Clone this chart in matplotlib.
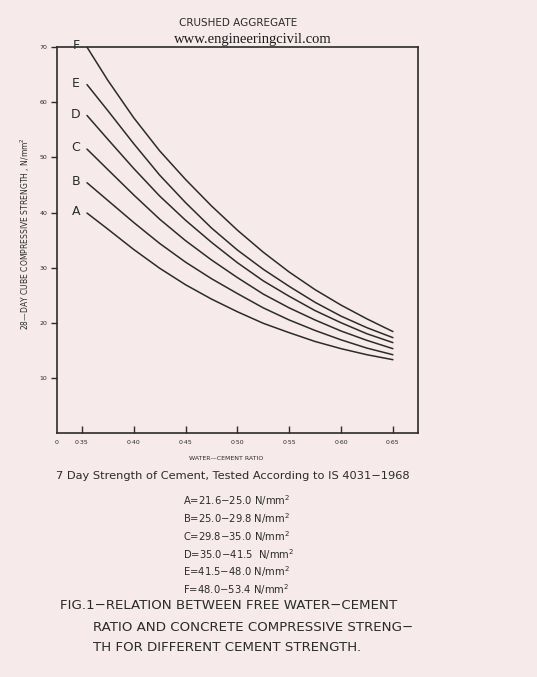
import matplotlib
matplotlib.use("Agg")
import matplotlib.pyplot as plt

# water-cement ratio where the curves were read
wc_ratio = [0.355, 0.375, 0.40, 0.425, 0.45, 0.475, 0.50, 0.525, 0.55, 0.575, 0.60, 0.625, 0.65]

# 28-day cube strength (N/mm2)
curve_a = [39.9, 37.0, 33.3, 29.9, 26.9, 24.3, 22.0, 19.9, 18.2, 16.6, 15.3, 14.2, 13.3]
curve_b = [45.4, 42.2, 38.2, 34.4, 31.0, 28.0, 25.3, 22.7, 20.5, 18.6, 16.9, 15.4, 14.2]
curve_c = [51.5, 47.8, 43.2, 38.8, 34.9, 31.4, 28.2, 25.2, 22.7, 20.5, 18.5, 16.8, 15.3]
curve_d = [57.6, 53.3, 48.0, 43.0, 38.6, 34.6, 30.9, 27.6, 24.8, 22.2, 20.0, 18.0, 16.4]
curve_e = [63.2, 58.5, 52.5, 46.8, 41.8, 37.2, 33.2, 29.7, 26.6, 23.7, 21.2, 19.1, 17.3]
curve_f = [70.0, 64.0, 57.2, 51.2, 46.0, 41.2, 36.8, 32.8, 29.2, 26.0, 23.2, 20.7, 18.4]

curve_names = ["A", "B", "C", "D", "E", "F"]
curves = [curve_a, curve_b, curve_c, curve_d, curve_e, curve_f]

x_ticks = [0.35, 0.40, 0.45, 0.50, 0.55, 0.60, 0.65]
x_ticklabels = ["0·35", "0·40", "0·45", "0·50", "0·55", "0·60", "0·65"]
y_ticks = [10, 20, 30, 40, 50, 60, 70]

legend_lines = [
    "A=21.6\u221225.0 N/mm$^{2}$",
    "B=25.0\u221229.8 N/mm$^{2}$",
    "C=29.8\u221235.0 N/mm$^{2}$",
    "D=35.0\u221241.5  N/mm$^{2}$",
    "E=41.5\u221248.0 N/mm$^{2}$",
    "F=48.0\u221253.4 N/mm$^{2}$",
]

paper = "#f6eaea"
ink = "#2b2b2b"

plt.rcParams["font.family"] = ["DejaVu Sans"]
plt.rcParams["mathtext.default"] = "regular"

fig = plt.figure(figsize=(5.37, 6.77), dpi=100, facecolor=paper)
ax = fig.add_axes([0.106, 0.3604, 0.672, 0.570], facecolor=paper)

for name, vals in zip(curve_names, curves):
    ax.plot(wc_ratio, vals, color=ink, linewidth=1.1, solid_capstyle="round")
    ax.annotate(name, xy=(wc_ratio[0], vals[0]), xytext=(-5, 1),
                textcoords="offset points", ha="right", va="center",
                fontsize=9, color=ink, annotation_clip=False)

ax.set_xlim(0.326, 0.674)
ax.set_ylim(0, 70)
for s in ax.spines.values():
    s.set_color(ink)
    s.set_linewidth(1.2)

ax.set_xticks([0.326] + x_ticks)
ax.set_xticklabels(["0"] + x_ticklabels, fontsize=4.5, color=ink)
ax.tick_params(axis="x", direction="in", length=5, width=1, color=ink, pad=5)
ax.xaxis.get_major_ticks()[0].tick1line.set_visible(False)

ax.set_yticks(y_ticks)
ax.set_yticklabels([str(v) for v in y_ticks], fontsize=4.5, color=ink)
ax.tick_params(axis="y", direction="out", length=4, width=1, color=ink, pad=3)

ax.set_xlabel("WATER\u2014CEMENT RATIO", fontsize=4.5, color=ink)
ax.xaxis.set_label_coords(0.468, -0.06)
ax.set_ylabel("28\u2014DAY CUBE COMPRESSIVE STRENGTH , N/mm$^{2}$",
              fontsize=5.5, color=ink)
ax.yaxis.set_label_coords(-0.068, 0.518)

fig.text(0.443, 0.966, "CRUSHED AGGREGATE", ha="center", va="center",
         fontsize=7.5, color=ink)
fig.text(0.471, 0.941, "www.engineeringcivil.com", ha="center", va="center",
         fontsize=10.5, color="#1a1a1a", family="Liberation Serif")

fig.text(0.434, 0.297, "7 Day Strength of Cement, Tested According to IS 4031\u22121968",
         ha="center", va="center", fontsize=8.2, color=ink)

for i, line in enumerate(legend_lines):
    fig.text(0.341, 0.261 - i * 0.0265, line, ha="left", va="center",
             fontsize=7.2, color=ink)

fig.text(0.112, 0.106, "FIG.1\u2212RELATION BETWEEN FREE WATER\u2212CEMENT",
         ha="left", va="center", fontsize=9.6, color=ink)
fig.text(0.173, 0.073, "RATIO AND CONCRETE COMPRESSIVE STRENG\u2212",
         ha="left", va="center", fontsize=9.6, color=ink)
fig.text(0.173, 0.043, "TH FOR DIFFERENT CEMENT STRENGTH.",
         ha="left", va="center", fontsize=9.6, color=ink)

fig.savefig("out.png", dpi=100, facecolor=paper)
